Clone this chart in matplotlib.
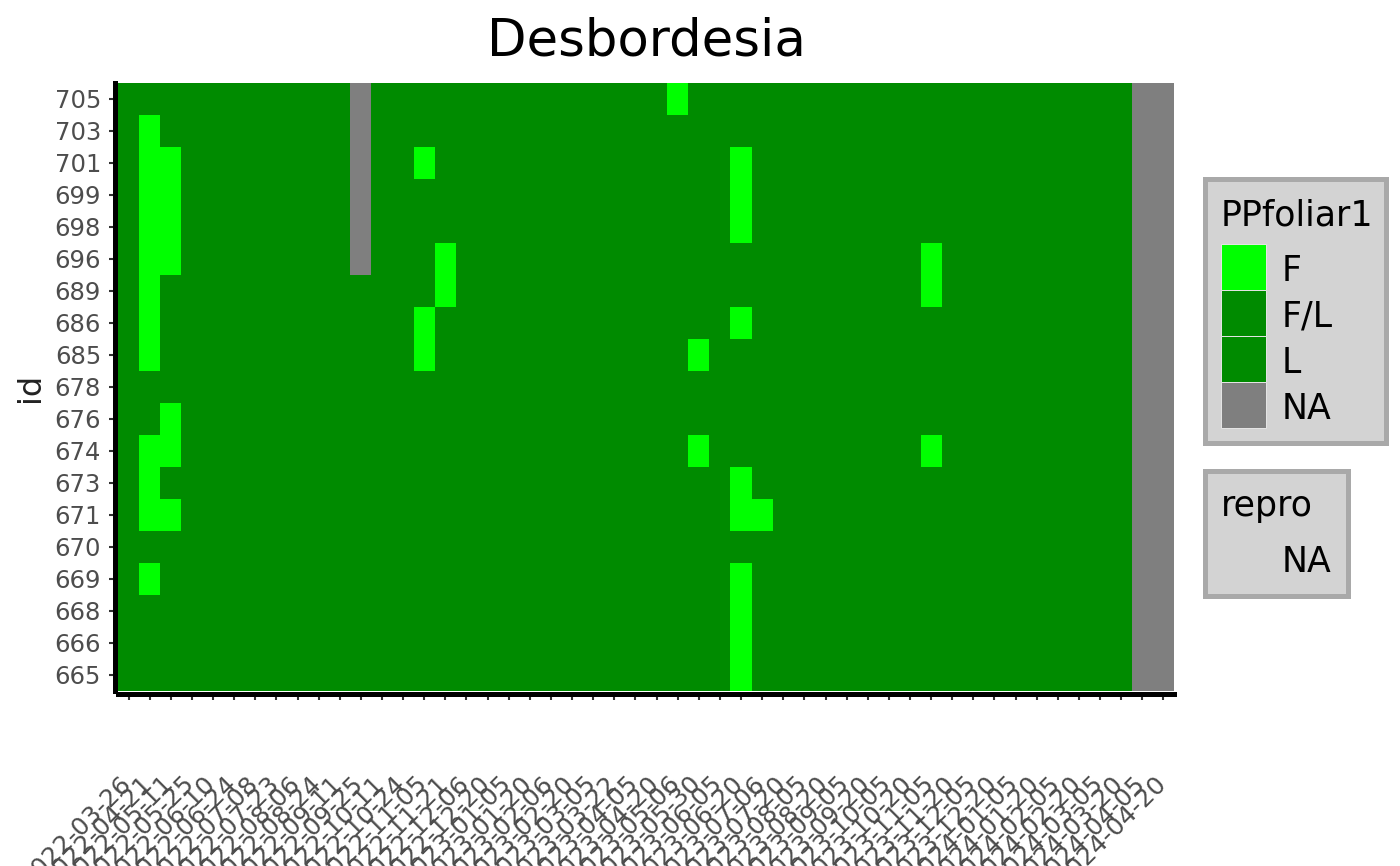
import matplotlib
matplotlib.use('Agg')
import matplotlib.pyplot as plt
import matplotlib.transforms as mtransforms
import numpy as np
from matplotlib.colors import ListedColormap
from matplotlib.patches import Rectangle

# fechas de muestreo (columnas)
dates = [
    '2022-03-26', '2022-04-21', '2022-05-11', '2022-05-25', '2022-06-10',
    '2022-06-24', '2022-07-08', '2022-07-23', '2022-08-06', '2022-08-24',
    '2022-09-11', '2022-09-25', '2022-10-11', '2022-10-24', '2022-11-05',
    '2022-11-21', '2022-12-06', '2022-12-20', '2023-01-05', '2023-01-20',
    '2023-02-06', '2023-02-20', '2023-03-05', '2023-03-22', '2023-04-05',
    '2023-04-20', '2023-05-06', '2023-05-30', '2023-06-05', '2023-06-20',
    '2023-07-06', '2023-07-20', '2023-08-05', '2023-08-20', '2023-09-05',
    '2023-09-20', '2023-10-05', '2023-10-20', '2023-11-05', '2023-11-20',
    '2023-12-05', '2023-12-20', '2024-01-05', '2024-01-20', '2024-02-05',
    '2024-02-20', '2024-03-05', '2024-03-20', '2024-04-05', '2024-04-20',
]

# individuos (de arriba hacia abajo)
ids = [705, 703, 701, 699, 698, 696, 689, 686, 685, 678,
       676, 674, 673, 671, 670, 669, 668, 666, 665]

# estado fenologico por fecha: F = hojas nuevas, L = F/L o L, N = sin dato
pheno = [
    "LLLLLLLLLL LNLLLLLLLL LLLLLLFLLL LLLLLLLLLL LLLLLLLLNN",  # 705
    "LFLLLLLLLL LNLLLLLLLL LLLLLLLLLL LLLLLLLLLL LLLLLLLLNN",  # 703
    "LFFLLLLLLL LNLLFLLLLL LLLLLLLLLF LLLLLLLLLL LLLLLLLLNN",  # 701
    "LFFLLLLLLL LNLLLLLLLL LLLLLLLLLF LLLLLLLLLL LLLLLLLLNN",  # 699
    "LFFLLLLLLL LNLLLLLLLL LLLLLLLLLF LLLLLLLLLL LLLLLLLLNN",  # 698
    "LFFLLLLLLL LNLLLFLLLL LLLLLLLLLL LLLLLLLLFL LLLLLLLLNN",  # 696
    "LFLLLLLLLL LLLLLFLLLL LLLLLLLLLL LLLLLLLLFL LLLLLLLLNN",  # 689
    "LFLLLLLLLL LLLLFLLLLL LLLLLLLLLF LLLLLLLLLL LLLLLLLLNN",  # 686
    "LFLLLLLLLL LLLLFLLLLL LLLLLLLFLL LLLLLLLLLL LLLLLLLLNN",  # 685
    "LLLLLLLLLL LLLLLLLLLL LLLLLLLLLL LLLLLLLLLL LLLLLLLLNN",  # 678
    "LLFLLLLLLL LLLLLLLLLL LLLLLLLLLL LLLLLLLLLL LLLLLLLLNN",  # 676
    "LFFLLLLLLL LLLLLLLLLL LLLLLLLFLL LLLLLLLLFL LLLLLLLLNN",  # 674
    "LFLLLLLLLL LLLLLLLLLL LLLLLLLLLF LLLLLLLLLL LLLLLLLLNN",  # 673
    "LFFLLLLLLL LLLLLLLLLL LLLLLLLLLF FLLLLLLLLL LLLLLLLLNN",  # 671
    "LLLLLLLLLL LLLLLLLLLL LLLLLLLLLL LLLLLLLLLL LLLLLLLLNN",  # 670
    "LFLLLLLLLL LLLLLLLLLL LLLLLLLLLF LLLLLLLLLL LLLLLLLLNN",  # 669
    "LLLLLLLLLL LLLLLLLLLL LLLLLLLLLF LLLLLLLLLL LLLLLLLLNN",  # 668
    "LLLLLLLLLL LLLLLLLLLL LLLLLLLLLF LLLLLLLLLL LLLLLLLLNN",  # 666
    "LLLLLLLLLL LLLLLLLLLL LLLLLLLLLF LLLLLLLLLL LLLLLLLLNN",  # 665
]

legend_labels = ['F', 'F/L', 'L', 'NA']
c_f = '#00FF00'
c_l = '#008B00'
c_na = '#7F7F7F'
legend_colors = [c_f, c_l, c_l, c_na]

plt.rcParams['xtick.alignment'] = 'right'

W, H = 1400, 866
fig = plt.figure(figsize=(14, 8.66), dpi=100)
ax = fig.add_axes([118 / W, 1 - 691 / H, 1056 / W, 608 / H])

code = {'F': 0, 'L': 1, 'N': 2}
mat = np.array([[code[c] for c in r.replace(' ', '')] for r in pheno])
cmap = ListedColormap([c_f, c_l, c_na])
ax.pcolormesh(np.arange(len(dates) + 1) - 0.5, np.arange(len(ids) + 1) - 0.5,
              mat[::-1], cmap=cmap, vmin=-0.5, vmax=2.5,
              edgecolors='face', linewidth=0, antialiased=False)
ax.set_xlim(-0.5, len(dates) - 0.5)
ax.set_ylim(-0.5, len(ids) - 0.5)

ax.set_yticks(range(len(ids)))
ax.set_yticklabels([str(i) for i in ids[::-1]])
ax.set_xticks(range(len(dates)))
ax.set_xticklabels(dates)

ax.tick_params(axis='y', labelsize=17.5, labelcolor='#4D4D4D', color='#333333',
               length=4.3, width=1.5, pad=5.5)
ax.tick_params(axis='x', labelsize=18, labelcolor='#4D4D4D', color='#333333',
               length=4.3, width=1.5, pad=51, labelrotation=45)

for s in ['top', 'right']:
    ax.spines[s].set_visible(False)
for s in ['left', 'bottom']:
    ax.spines[s].set_linewidth(3.6)
    ax.spines[s].set_color('black')
    ax.spines[s].set_capstyle('projecting')
    ax.spines[s].set_position(('outward', 2.4))

fig.text(646 / W, 1 - 55 / H, 'Desbordesia', ha='center', va='baseline',
         fontsize=37, color='black')
fig.text(31 / W, 1 - 387 / H, 'id', rotation=90, ha='center', va='center',
         fontsize=23, color='#222222')

# leyendas dibujadas en pixeles de la figura
lax = fig.add_axes([0, 0, 1, 1])
lax.set_xlim(0, W)
lax.set_ylim(H, 0)
lax.axis('off')

lax.add_patch(Rectangle((1205, 179), 181, 264, facecolor='#D3D3D3',
                        edgecolor='#A9A9A9', linewidth=3.6))
lax.text(1221, 225, 'PPfoliar1', fontsize=25, color='black', va='baseline')
for i, (lab, col) in enumerate(zip(legend_labels, legend_colors)):
    y0 = 244 + 46 * i
    lax.add_patch(Rectangle((1221, y0), 45, 46, facecolor=col,
                            edgecolor='#E6E6E6', linewidth=0.7))
    lax.text(1282, y0 + 37, lab, fontsize=25, color='black', va='baseline')

lax.add_patch(Rectangle((1205, 471), 143, 125, facecolor='#D3D3D3',
                        edgecolor='#A9A9A9', linewidth=3.6))
lax.text(1221, 516, 'repro', fontsize=25, color='black', va='baseline')
lax.text(1282, 572, 'NA', fontsize=25, color='black', va='baseline')

# las etiquetas del eje x terminan un poco a la derecha de cada marca
shift = mtransforms.ScaledTranslation(0.07, 0, fig.dpi_scale_trans)
for t in ax.get_xticklabels():
    t.set_ha('right')
    t.set_va('top')
    t.set_transform(t.get_transform() + shift)

fig.savefig('out.png', dpi=100)
